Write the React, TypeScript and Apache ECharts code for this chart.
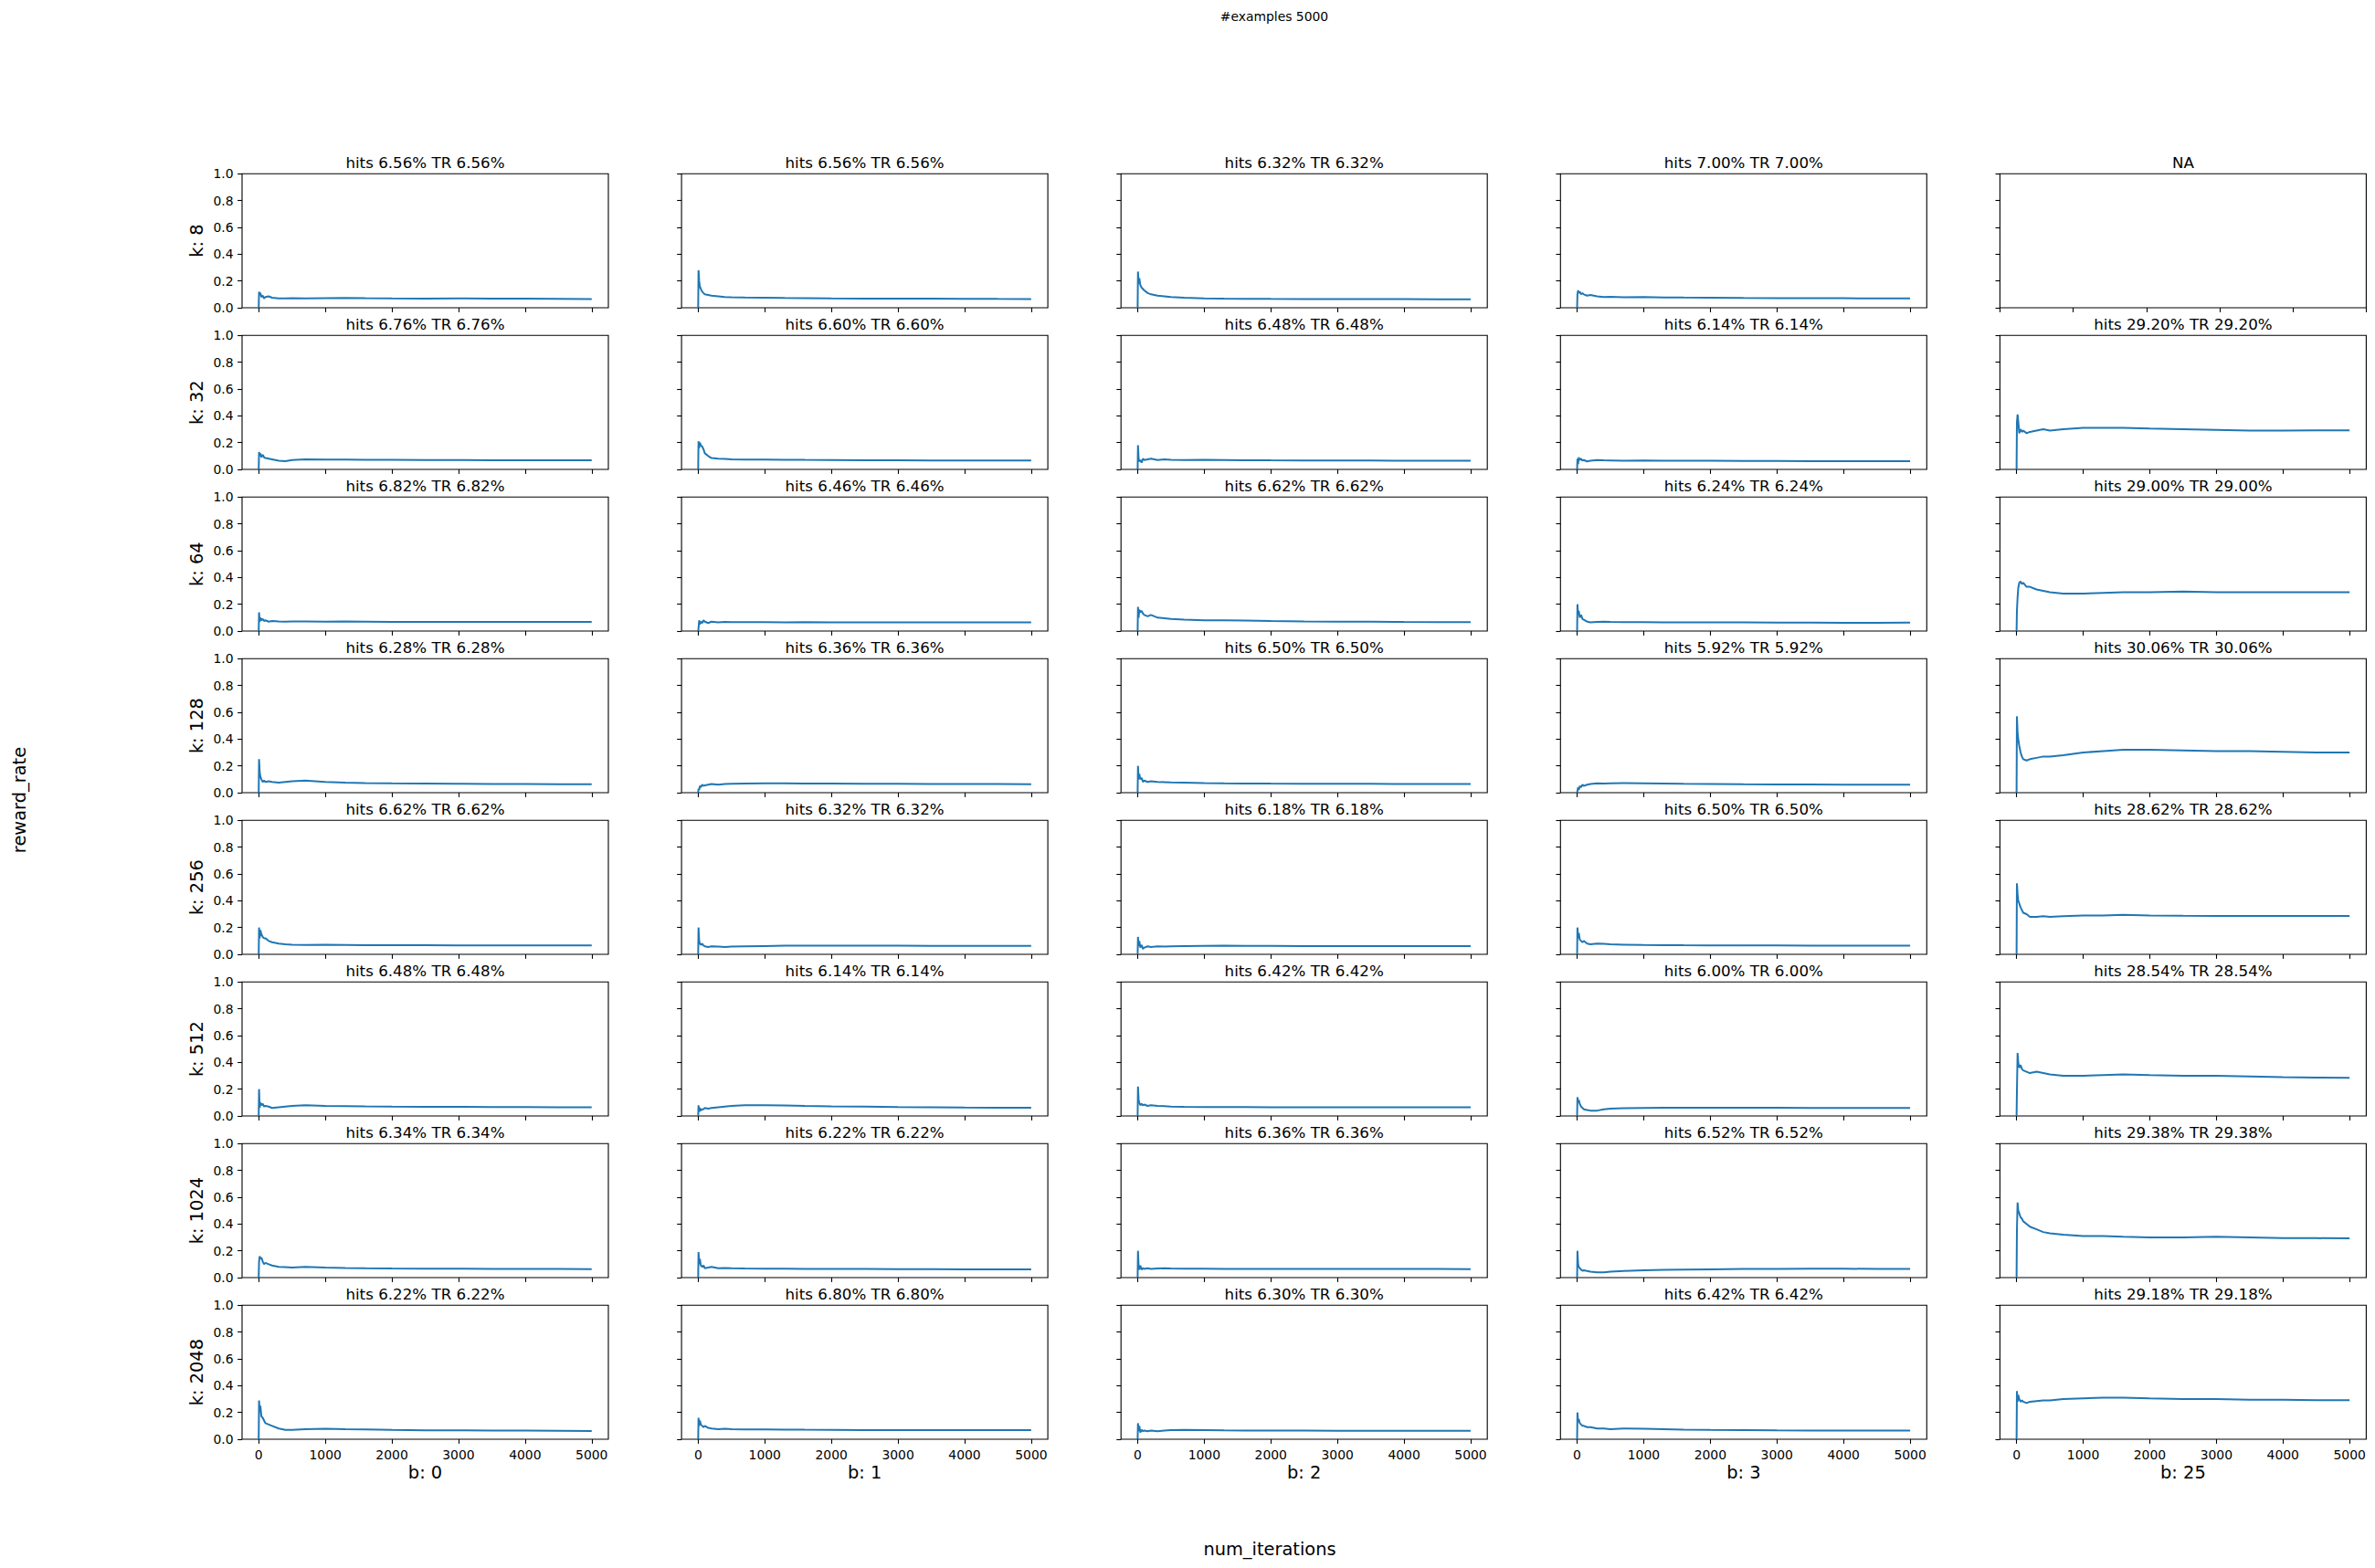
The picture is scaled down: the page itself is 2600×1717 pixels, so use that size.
import React, { useEffect, useRef } from "react";
import * as echarts from "echarts";

// iteration positions at which the curves are sampled
const X = [0, 5, 15, 25, 40, 60, 80, 100, 150, 200, 300, 400, 500, 700, 1000, 1300, 1600, 2000, 2500, 3000, 3500, 4000, 4500, 5000];
const X_TICKS = [0, 1000, 2000, 3000, 4000, 5000];
const Y_TICKS = [0, 0.2, 0.4, 0.6, 0.8, 1.0];
const NA_X_TICKS = [0, 0.2, 0.4, 0.6, 0.8, 1.0];

const K_VALUES = [8, 32, 64, 128, 256, 512, 1024, 2048];
const B_VALUES = [0, 1, 2, 3, 25];

const HITS: (number | null)[][] = [
  [6.56, 6.56, 6.32, 7.0, null],
  [6.76, 6.6, 6.48, 6.14, 29.2],
  [6.82, 6.46, 6.62, 6.24, 29.0],
  [6.28, 6.36, 6.5, 5.92, 30.06],
  [6.62, 6.32, 6.18, 6.5, 28.62],
  [6.48, 6.14, 6.42, 6.0, 28.54],
  [6.34, 6.22, 6.36, 6.52, 29.38],
  [6.22, 6.8, 6.3, 6.42, 29.18],
];

const K8 = [
  [0, 0.12, 0.10, 0.11, 0.08, 0.09, 0.07, 0.08, 0.085, 0.075, 0.07, 0.07, 0.072, 0.07, 0.072, 0.074, 0.072, 0.07, 0.068, 0.07, 0.069, 0.068, 0.067, 0.0656],
  [0, 0.28, 0.20, 0.16, 0.14, 0.12, 0.11, 0.10, 0.095, 0.09, 0.085, 0.08, 0.078, 0.076, 0.075, 0.073, 0.072, 0.07, 0.069, 0.068, 0.068, 0.067, 0.066, 0.0656],
  [0, 0.27, 0.18, 0.22, 0.17, 0.15, 0.14, 0.13, 0.11, 0.10, 0.09, 0.085, 0.08, 0.075, 0.07, 0.068, 0.067, 0.066, 0.065, 0.065, 0.064, 0.064, 0.063, 0.0632],
  [0, 0.10, 0.13, 0.11, 0.12, 0.10, 0.11, 0.10, 0.09, 0.095, 0.085, 0.08, 0.082, 0.078, 0.08, 0.077, 0.076, 0.075, 0.073, 0.072, 0.071, 0.071, 0.07, 0.07],
  null,
];
const K32 = [
  [0, 0.13, 0.10, 0.12, 0.09, 0.11, 0.09, 0.085, 0.08, 0.075, 0.065, 0.062, 0.07, 0.075, 0.074, 0.073, 0.072, 0.071, 0.07, 0.07, 0.069, 0.068, 0.068, 0.0676],
  [0, 0.21, 0.16, 0.20, 0.18, 0.17, 0.15, 0.12, 0.10, 0.085, 0.08, 0.078, 0.075, 0.074, 0.073, 0.072, 0.071, 0.07, 0.069, 0.068, 0.067, 0.067, 0.066, 0.066],
  [0, 0.18, 0.08, 0.06, 0.07, 0.05, 0.08, 0.07, 0.075, 0.08, 0.07, 0.075, 0.072, 0.07, 0.071, 0.07, 0.069, 0.068, 0.067, 0.066, 0.066, 0.065, 0.065, 0.0648],
  [0, 0.08, 0.04, 0.09, 0.07, 0.08, 0.065, 0.07, 0.06, 0.065, 0.07, 0.068, 0.067, 0.065, 0.066, 0.065, 0.064, 0.064, 0.063, 0.063, 0.062, 0.062, 0.062, 0.0614],
  [0, 0.35, 0.41, 0.36, 0.27, 0.30, 0.28, 0.29, 0.27, 0.28, 0.29, 0.30, 0.29, 0.30, 0.31, 0.31, 0.31, 0.305, 0.30, 0.295, 0.29, 0.29, 0.292, 0.292],
];
const K64 = [
  [0, 0.14, 0.07, 0.10, 0.08, 0.09, 0.075, 0.08, 0.07, 0.075, 0.072, 0.07, 0.071, 0.072, 0.07, 0.071, 0.07, 0.069, 0.069, 0.068, 0.068, 0.068, 0.068, 0.0682],
  [0, 0.02, 0.08, 0.05, 0.07, 0.06, 0.08, 0.07, 0.06, 0.07, 0.065, 0.068, 0.066, 0.067, 0.066, 0.065, 0.066, 0.065, 0.065, 0.064, 0.065, 0.065, 0.065, 0.0646],
  [0, 0.18, 0.10, 0.16, 0.14, 0.15, 0.13, 0.12, 0.11, 0.12, 0.10, 0.095, 0.09, 0.085, 0.08, 0.08, 0.078, 0.075, 0.072, 0.07, 0.07, 0.068, 0.067, 0.0662],
  [0, 0.20, 0.12, 0.15, 0.10, 0.12, 0.09, 0.085, 0.07, 0.065, 0.068, 0.07, 0.068, 0.066, 0.066, 0.065, 0.065, 0.064, 0.064, 0.063, 0.063, 0.062, 0.062, 0.0624],
  [0, 0.15, 0.25, 0.32, 0.36, 0.37, 0.35, 0.36, 0.33, 0.33, 0.31, 0.30, 0.29, 0.28, 0.28, 0.285, 0.29, 0.29, 0.295, 0.29, 0.29, 0.29, 0.29, 0.29],
];
const K128 = [
  [0, 0.25, 0.15, 0.12, 0.10, 0.08, 0.09, 0.08, 0.085, 0.08, 0.075, 0.08, 0.085, 0.09, 0.08, 0.075, 0.072, 0.07, 0.068, 0.066, 0.065, 0.064, 0.063, 0.0628],
  [0, 0.03, 0.02, 0.05, 0.04, 0.06, 0.05, 0.055, 0.06, 0.065, 0.06, 0.065, 0.066, 0.068, 0.07, 0.07, 0.069, 0.068, 0.067, 0.066, 0.065, 0.064, 0.064, 0.0636],
  [0, 0.20, 0.10, 0.14, 0.10, 0.11, 0.08, 0.09, 0.08, 0.085, 0.08, 0.078, 0.076, 0.075, 0.072, 0.07, 0.069, 0.068, 0.067, 0.066, 0.066, 0.065, 0.065, 0.065],
  [0, 0.0, 0.04, 0.02, 0.05, 0.04, 0.06, 0.05, 0.06, 0.065, 0.07, 0.068, 0.07, 0.072, 0.07, 0.068, 0.066, 0.065, 0.063, 0.062, 0.061, 0.06, 0.06, 0.0592],
  [0, 0.57, 0.45, 0.40, 0.35, 0.30, 0.27, 0.25, 0.24, 0.25, 0.26, 0.27, 0.27, 0.28, 0.30, 0.31, 0.32, 0.32, 0.315, 0.31, 0.31, 0.305, 0.30, 0.3006],
];
const K256 = [
  [0, 0.20, 0.12, 0.18, 0.15, 0.13, 0.12, 0.12, 0.10, 0.09, 0.08, 0.075, 0.072, 0.07, 0.071, 0.07, 0.069, 0.068, 0.068, 0.067, 0.067, 0.066, 0.066, 0.0662],
  [0, 0.20, 0.10, 0.08, 0.07, 0.08, 0.065, 0.06, 0.055, 0.06, 0.058, 0.055, 0.058, 0.06, 0.062, 0.064, 0.064, 0.065, 0.064, 0.064, 0.063, 0.063, 0.063, 0.0632],
  [0, 0.13, 0.06, 0.10, 0.05, 0.07, 0.04, 0.05, 0.06, 0.055, 0.06, 0.058, 0.06, 0.062, 0.063, 0.064, 0.063, 0.063, 0.062, 0.062, 0.062, 0.062, 0.062, 0.0618],
  [0, 0.20, 0.12, 0.16, 0.11, 0.10, 0.09, 0.10, 0.08, 0.075, 0.08, 0.078, 0.075, 0.072, 0.07, 0.069, 0.068, 0.067, 0.066, 0.066, 0.065, 0.065, 0.065, 0.065],
  [0, 0.53, 0.45, 0.40, 0.38, 0.35, 0.33, 0.31, 0.30, 0.28, 0.28, 0.285, 0.28, 0.285, 0.29, 0.29, 0.295, 0.29, 0.288, 0.287, 0.286, 0.286, 0.286, 0.2862],
];
const K512 = [
  [0, 0.20, 0.06, 0.10, 0.08, 0.09, 0.07, 0.075, 0.07, 0.06, 0.065, 0.07, 0.075, 0.08, 0.075, 0.074, 0.072, 0.07, 0.069, 0.068, 0.067, 0.066, 0.065, 0.0648],
  [0, 0.08, 0.03, 0.06, 0.04, 0.05, 0.05, 0.06, 0.055, 0.06, 0.065, 0.07, 0.075, 0.08, 0.08, 0.078, 0.075, 0.072, 0.07, 0.067, 0.065, 0.063, 0.062, 0.0614],
  [0, 0.22, 0.12, 0.10, 0.08, 0.09, 0.08, 0.085, 0.075, 0.08, 0.075, 0.073, 0.07, 0.068, 0.067, 0.066, 0.066, 0.065, 0.065, 0.065, 0.065, 0.064, 0.064, 0.0642],
  [0, 0.14, 0.10, 0.12, 0.09, 0.07, 0.06, 0.05, 0.045, 0.04, 0.04, 0.05, 0.055, 0.058, 0.06, 0.061, 0.062, 0.062, 0.061, 0.061, 0.06, 0.06, 0.06, 0.06],
  [0, 0.18, 0.47, 0.40, 0.36, 0.38, 0.35, 0.34, 0.33, 0.32, 0.33, 0.32, 0.31, 0.30, 0.30, 0.305, 0.31, 0.305, 0.30, 0.30, 0.295, 0.29, 0.287, 0.2854],
];
const K1024 = [
  [0, 0.12, 0.16, 0.14, 0.15, 0.12, 0.10, 0.11, 0.10, 0.09, 0.08, 0.078, 0.075, 0.08, 0.075, 0.072, 0.07, 0.068, 0.067, 0.066, 0.065, 0.064, 0.064, 0.0634],
  [0, 0.19, 0.10, 0.14, 0.09, 0.08, 0.09, 0.07, 0.075, 0.08, 0.07, 0.072, 0.07, 0.068, 0.067, 0.066, 0.065, 0.064, 0.064, 0.063, 0.063, 0.062, 0.062, 0.0622],
  [0, 0.20, 0.08, 0.06, 0.09, 0.06, 0.07, 0.065, 0.07, 0.065, 0.068, 0.07, 0.068, 0.066, 0.066, 0.065, 0.065, 0.064, 0.064, 0.064, 0.064, 0.064, 0.064, 0.0636],
  [0, 0.20, 0.10, 0.08, 0.07, 0.06, 0.05, 0.055, 0.05, 0.045, 0.04, 0.04, 0.045, 0.05, 0.055, 0.058, 0.06, 0.062, 0.064, 0.065, 0.066, 0.066, 0.065, 0.0652],
  [0, 0.35, 0.56, 0.50, 0.48, 0.45, 0.44, 0.42, 0.40, 0.38, 0.36, 0.34, 0.33, 0.32, 0.31, 0.31, 0.305, 0.30, 0.30, 0.305, 0.30, 0.295, 0.294, 0.2938],
];
const K2048 = [
  [0, 0.29, 0.20, 0.25, 0.17, 0.16, 0.14, 0.12, 0.11, 0.10, 0.08, 0.07, 0.07, 0.075, 0.078, 0.075, 0.073, 0.07, 0.067, 0.066, 0.065, 0.064, 0.063, 0.0622],
  [0, 0.16, 0.10, 0.14, 0.11, 0.10, 0.09, 0.10, 0.085, 0.08, 0.075, 0.078, 0.075, 0.074, 0.073, 0.072, 0.071, 0.07, 0.069, 0.069, 0.068, 0.068, 0.068, 0.068],
  [0, 0.12, 0.06, 0.10, 0.05, 0.07, 0.06, 0.065, 0.06, 0.065, 0.06, 0.065, 0.068, 0.07, 0.068, 0.066, 0.065, 0.064, 0.064, 0.063, 0.063, 0.063, 0.063, 0.063],
  [0, 0.20, 0.13, 0.15, 0.12, 0.11, 0.10, 0.10, 0.09, 0.09, 0.08, 0.08, 0.075, 0.08, 0.078, 0.075, 0.072, 0.07, 0.068, 0.066, 0.065, 0.065, 0.064, 0.0642],
  [0, 0.36, 0.28, 0.33, 0.30, 0.28, 0.29, 0.28, 0.27, 0.28, 0.285, 0.29, 0.29, 0.30, 0.305, 0.31, 0.31, 0.305, 0.30, 0.30, 0.295, 0.295, 0.292, 0.2918],
];
const ROWS = [K8, K32, K64, K128, K256, K512, K1024, K2048];

const FONT = "DejaVu Sans";

export default function App() {
  const ref = useRef<HTMLDivElement>(null);
  useEffect(() => {
    if (!ref.current) return;
    const chart = echarts.init(ref.current, null, { renderer: "svg" });
    const L0 = 265, T0 = 190.3, DX = 481.1, DY = 177, W = 401, H = 146.7;
    const grids: any[] = [], xAxes: any[] = [], yAxes: any[] = [], series: any[] = [], graphics: any[] = [];
    const tickStyle = { color: "#000", width: 1.1 };
    ROWS.forEach((row, r) => {
      row.forEach((vals, c) => {
        const idx = r * 5 + c;
        const left = L0 + c * DX, top = T0 + r * DY;
        const isNA = vals === null;
        grids.push({ left, top, width: W, height: H, show: true, borderColor: "#000", borderWidth: 1.1, backgroundColor: "transparent", containLabel: false, outerBoundsMode: "none" });
        xAxes.push({
          type: "value", gridIndex: idx,
          min: isNA ? 0 : -250, max: isNA ? 1 : 5250,
          axisLine: { show: false, onZero: false },
          splitLine: { show: false },
          axisTick: { show: true, inside: false, length: 4.9, lineStyle: tickStyle, customValues: isNA ? NA_X_TICKS : X_TICKS },
          axisLabel: { show: r === ROWS.length - 1, customValues: X_TICKS, color: "#000", fontSize: 13.9, fontFamily: FONT, margin: 9.5, formatter: (v: number) => String(v) },
        });
        yAxes.push({
          type: "value", gridIndex: idx, min: 0, max: 1,
          axisLine: { show: false, onZero: false },
          splitLine: { show: false },
          axisTick: { show: true, inside: false, length: 4.9, lineStyle: tickStyle, customValues: Y_TICKS },
          axisLabel: { show: c === 0, customValues: Y_TICKS, color: "#000", fontSize: 13.9, fontFamily: FONT, margin: 9.5, formatter: (v: number) => v.toFixed(1) },
        });
        if (!isNA) {
          series.push({
            type: "line", xAxisIndex: idx, yAxisIndex: idx,
            data: X.map((x, i) => [x, (vals as number[])[i]]),
            symbol: "none", showSymbol: false, silent: true,
            lineStyle: { color: "#1f77b4", width: 2 },
          });
        }
        const h = HITS[r][c];
        const title = h === null ? "NA" : `hits ${h.toFixed(2)}% TR ${h.toFixed(2)}%`;
        graphics.push({
          type: "text", x: left + W / 2, y: top - 4,
          style: { text: title, fontSize: 16.7, fontFamily: FONT, fill: "#000", align: "center", verticalAlign: "bottom" },
        });
        if (c === 0) {
          graphics.push({
            type: "text", x: 215, y: top + H / 2, rotation: Math.PI / 2,
            style: { text: `k: ${K_VALUES[r]}`, fontSize: 19.4, fontFamily: FONT, fill: "#000", align: "center", verticalAlign: "middle" },
          });
        }
        if (r === ROWS.length - 1) {
          graphics.push({
            type: "text", x: left + W / 2, y: 1612,
            style: { text: `b: ${B_VALUES[c]}`, fontSize: 19.4, fontFamily: FONT, fill: "#000", align: "center", verticalAlign: "middle" },
          });
        }
      });
    });
    graphics.push({
      type: "text", x: 1395, y: 18,
      style: { text: "#examples 5000", fontSize: 13.9, fontFamily: FONT, fill: "#000", align: "center", verticalAlign: "middle" },
    });
    graphics.push({
      type: "text", x: 21, y: 876, rotation: Math.PI / 2,
      style: { text: "reward_rate", fontSize: 19.4, fontFamily: FONT, fill: "#000", align: "center", verticalAlign: "middle" },
    });
    graphics.push({
      type: "text", x: 1390, y: 1696,
      style: { text: "num_iterations", fontSize: 19.4, fontFamily: FONT, fill: "#000", align: "center", verticalAlign: "middle" },
    });
    chart.setOption({
      animation: false,
      backgroundColor: "#fff",
      grid: grids, xAxis: xAxes, yAxis: yAxes, series,
      graphic: graphics,
    });
    return () => chart.dispose();
  }, []);
  return <div ref={ref} style={{ position: "fixed", left: 0, top: 0, width: 2600, height: 1717 }} />;
}
